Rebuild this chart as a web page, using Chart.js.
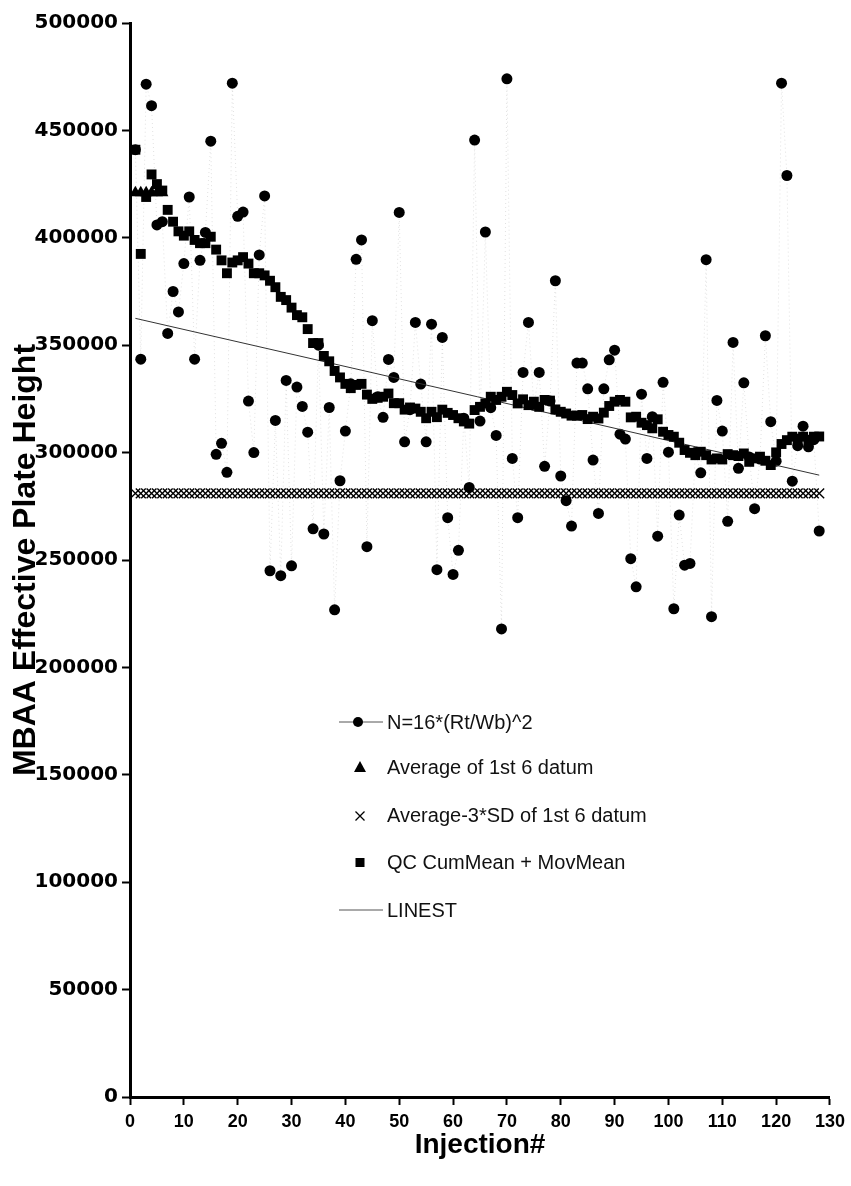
<!DOCTYPE html>
<html>
<head>
<meta charset="utf-8">
<script src="https://cdn.jsdelivr.net/npm/chart.js@4.4.1/dist/chart.umd.min.js"></script>
<style>
  html, body { margin: 0; padding: 0; background: #fff; }
  #wrap { position: relative; width: 851px; height: 1186px; }
  #legend { position: absolute; left: 0; top: 0; font-family: "Liberation Sans", Arial, sans-serif; font-size: 20px; color: #111; }
  .row { position: absolute; left: 339px; height: 20px; display: flex; align-items: center; white-space: nowrap; }
  .row svg { width: 44px; height: 20px; margin-right: 4px; flex: none; }
</style>
</head>
<body>
<div id="wrap">
  <canvas id="chart" width="851" height="1186"></canvas>
  <div id="legend"></div>
</div>
<script>
// injection numbers 1..128
const injections = Array.from({ length: 128 }, (_, i) => i + 1);

// N=16*(Rt/Wb)^2
const plateHeight = [
  441000, 343500, 471500, 461500, 406000, 407500, 355500, 375000, 365500, 388000,
  419000, 343500, 389500, 402500, 445000, 299200, 304300, 290800, 472000, 410000,
  412000, 324000, 300000, 392000, 419500, 245000, 315000, 242700, 333600, 247300,
  330500, 321500, 309500, 264500, 350000, 262100, 321000, 226800, 286900, 310000,
  332000, 390000, 399000, 256200, 361400, 326000, 316400, 343400, 335000, 411800,
  305000, 320000, 360600, 331900, 305000, 359800, 245500, 353600, 269700, 243300,
  254500, 316000, 283800, 445500, 314700, 402700, 320900, 308000, 217900, 474000,
  297300, 269700, 337300, 360600, 322000, 337300, 293600, 324000, 380000, 289100,
  277600, 265800, 341700, 341700, 329700, 296500, 271700, 329700, 343200, 347700,
  308600, 306300, 250600, 237500, 327200, 297300, 316700, 261100, 332700, 300200,
  227300, 270900, 247600, 248400, 300000, 290600, 389800, 223600, 324300, 310000,
  268000, 351300, 292700, 332500, 298000, 273900, 297000, 354400, 314400, 296000,
  472000, 429000, 286700, 303200, 312300, 302700, 306000, 263500
];

// QC CumMean + MovMean
const qcMean = [
  441000, 392500, 419000, 429500, 425000, 422000, 413000, 407500, 403000, 401000,
  403000, 399000, 397500, 397500, 400500, 394500, 389500, 383500, 388500, 389500,
  391000, 388000, 383500, 383500, 382500, 380000, 377000, 372500, 371000, 367500,
  364000, 363000, 357500, 351000, 351000, 345000, 342500, 338000, 335000, 332000,
  330000, 331500, 332000, 327000, 325000, 325500, 326000, 327500, 323000, 323000,
  320000, 321000, 320500, 319000, 316000, 319000, 316500, 320000, 318500, 317500,
  316000, 314500, 313500, 319800, 321300, 322900, 326000, 324500, 326000, 328300,
  326800, 322900, 324800, 322100, 323700, 321300, 324500, 324200, 320100, 319000,
  318200, 317200, 317200, 317500, 315600, 316700, 315900, 318600, 321700, 323700,
  324500, 323700, 316400, 316700, 313900, 312800, 311300, 315500, 309700, 308200,
  307400, 304600, 301200, 299900, 298800, 300400, 298800, 296800, 297300, 296800,
  299300, 298800, 298400, 299600, 295700, 297300, 298100, 296200, 294200, 300100,
  304000, 305800, 307400, 306500, 307400, 306000, 307400, 307500
];

const avgFirst6 = 421000;      // Average of 1st 6 datum
const firstCount = 6;
const lowerLimit = 281000;     // Average-3*SD of 1st 6 datum
const linestX = [1, 128];
const linestY = [362500, 289500];

const yTicks = { min: 0, max: 500000, step: 50000 };
const xTicks = { min: 0, max: 130, step: 10 };

const legendItems = [
  { text: "N=16*(Rt/Wb)^2", sym: "lineDot" },
  { text: "Average of 1st 6 datum", sym: "tri" },
  { text: "Average-3*SD of 1st 6 datum", sym: "cross" },
  { text: "QC CumMean + MovMean", sym: "square" },
  { text: "LINEST", sym: "line" },
];
const legendRowsY = [722, 767, 815, 862, 910];

function pts(xs, ys) {
  return xs.map((x, i) => ({ x, y: ys[i] }));
}

function buildDatasets() {
  const first = injections.slice(0, firstCount);
  return [
    {
      label: "QC CumMean + MovMean",
      data: pts(injections, qcMean),
      showLine: false,
      pointStyle: "rect",
      pointRadius: 7,
      backgroundColor: "#000",
      borderWidth: 0,
      order: 0,
    },
    {
      label: "Average-3*SD of 1st 6 datum",
      data: injections.map(x => ({ x, y: lowerLimit })),
      showLine: false,
      pointStyle: "crossRot",
      pointRadius: 7,
      borderColor: "#000",
      pointBorderWidth: 1.4,
      order: 1,
    },
    {
      label: "Average of 1st 6 datum",
      data: first.map(x => ({ x, y: avgFirst6 })),
      showLine: false,
      pointStyle: "triangle",
      pointRadius: 7,
      backgroundColor: "#000",
      borderWidth: 0,
      order: 2,
    },
    {
      label: "LINEST",
      data: pts(linestX, linestY),
      showLine: true,
      borderColor: "#333",
      borderWidth: 1,
      pointRadius: 0,
      order: 3,
    },
    {
      label: "N=16*(Rt/Wb)^2",
      data: pts(injections, plateHeight),
      showLine: true,
      borderColor: "rgba(0,0,0,0.12)",
      borderWidth: 1,
      borderDash: [1, 3],
      pointStyle: "circle",
      pointRadius: 5.5,
      backgroundColor: "#000",
      pointBorderWidth: 0,
      order: 4,
    },
  ];
}

function renderChart() {
  const ctx = document.getElementById("chart").getContext("2d");
  new Chart(ctx, {
    type: "scatter",
    data: { datasets: buildDatasets() },
    options: {
      responsive: false,
      animation: false,
      devicePixelRatio: 1,
      layout: { padding: { top: 23, right: 17, left: 0, bottom: 0 } },
      plugins: { legend: { display: false }, tooltip: { enabled: false } },
      scales: {
        x: {
          type: "linear",
          min: xTicks.min, max: xTicks.max,
          afterFit: s => { s.height = 89; },
          ticks: {
            stepSize: xTicks.step, color: "#000", padding: 6,
            font: { family: "'Liberation Sans', Arial", weight: "bold", size: 18 },
          },
          grid: { drawOnChartArea: false, drawTicks: true, tickLength: 8, tickWidth: 2, tickColor: "#000" },
          border: { display: true, color: "#000", width: 3 },
          title: {
            display: true, text: "Injection#", color: "#000",
            font: { family: "'Liberation Sans', Arial", weight: "bold", size: 28 },
            padding: { top: 0, bottom: 24 },
          },
        },
        y: {
          min: yTicks.min, max: yTicks.max,
          afterFit: s => { s.width = 130; },
          ticks: {
            stepSize: yTicks.step, color: "#000", padding: 4,
            callback: v => String(v),
            font: { family: "'DejaVu Sans', Arial", weight: "bold", size: 20 },
          },
          grid: { drawOnChartArea: false, drawTicks: true, tickLength: 8, tickWidth: 2, tickColor: "#000" },
          border: { display: true, color: "#000", width: 3 },
          title: {
            display: true, text: "MBAA Effective Plate Height", color: "#000",
            font: { family: "'Liberation Sans', Arial", weight: "bold", size: 32 },
            padding: { top: 7, bottom: 0 },
          },
        },
      },
    },
  });
}

function symbolSvg(sym) {
  let inner = "";
  if (sym === "lineDot") inner = '<line x1="0" y1="10" x2="44" y2="10" stroke="#555" stroke-width="1"/><circle cx="19" cy="10" r="5" fill="#000"/>';
  if (sym === "tri") inner = '<polygon points="21,4 27,15 15,15" fill="#000"/>';
  if (sym === "cross") inner = '<path d="M16.5 6.5 L25.5 15.5 M25.5 6.5 L16.5 15.5" stroke="#000" stroke-width="1.3"/>';
  if (sym === "square") inner = '<rect x="16.5" y="6" width="9" height="9" fill="#000"/>';
  if (sym === "line") inner = '<line x1="0" y1="10" x2="44" y2="10" stroke="#555" stroke-width="1"/>';
  return `<svg viewBox="0 0 44 20">${inner}</svg>`;
}

function renderLegend() {
  const box = document.getElementById("legend");
  legendItems.forEach((item, i) => {
    const row = document.createElement("div");
    row.className = "row";
    row.style.top = (legendRowsY[i] - 10) + "px";
    row.innerHTML = symbolSvg(item.sym);
    const span = document.createElement("span");
    span.textContent = item.text;
    row.appendChild(span);
    box.appendChild(row);
  });
}

document.addEventListener("DOMContentLoaded", () => {
  renderChart();
  renderLegend();
});
</script>
</body>
</html>
